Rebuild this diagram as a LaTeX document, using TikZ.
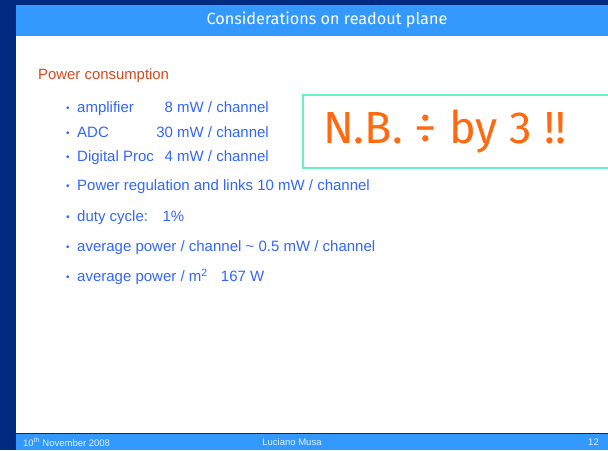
\documentclass[tikz,border=0pt]{standalone}
\usepackage{fontspec}
\setmainfont{Liberation Sans}
\newfontfamily\titlefont{Fira Sans}
\definecolor{navy}{HTML}{002B80}
\definecolor{barblue}{HTML}{3399FF}
\definecolor{headred}{HTML}{D8481E}
\definecolor{itemblue}{HTML}{3366FF}
\definecolor{aqua}{HTML}{66F2C6}
\definecolor{nborange}{HTML}{FF6A10}
\newcommand{\bul}{\makebox[11pt][l]{\raisebox{1pt}{\fontsize{10}{10}\selectfont•}}}
\begin{document}
\begin{tikzpicture}[x=1pt,y=-1pt,
  item/.style={anchor=base west,inner sep=0pt,text=itemblue,font=\fontsize{15}{16}\selectfont},
  val/.style={anchor=base east,inner sep=0pt,text=itemblue,font=\fontsize{15}{16}\selectfont},
  foot/.style={inner sep=0pt,text=white!85!barblue,font=\fontsize{9.5}{10}\selectfont}]
\useasboundingbox (0,0) rectangle (608,450);
\fill[navy] (0,0) rectangle (608,450);
\fill[white] (16,36) rectangle (608,433);
\fill[barblue] (16,5) rectangle (608,36);
\fill[barblue] (16,434) rectangle (608,450);
\node[text=white,inner sep=0pt,font=\titlefont\fontsize{16.2}{18}\selectfont] (title) at (327,20) {Considerations on readout plane};
\node[anchor=base west,inner sep=0pt,text=headred,font=\fontsize{14.9}{16}\selectfont] (head) at (38,79.5) {Power consumption};
\node[item] (i1) at (66,112) {\bul amplifier};
\node[val] (v1) at (269,112) {8 mW / channel};
\node[item] (i2) at (66,137.5) {\bul ADC};
\node[val] (v2) at (269,137.5) {30 mW / channel};
\node[item] (i3) at (66,161) {\bul Digital Proc};
\node[val] (v3) at (269,161) {4 mW / channel};
\node[item] (i4) at (66,190) {\bul Power regulation and links 10 mW / channel};
\node[item] (i5) at (66,221.5) {\bul duty cycle:\hspace{0.6em} 1\%};
\node[item] (i6) at (66,251.5) {\bul average power / channel \char"007E\ 0.5 mW / channel};
\node[item] (i7) at (66,281.5) {\bul average power / m\textsuperscript{2}\hspace{0.6em} 167 W};
\draw[aqua,line width=2pt] (303,95) rectangle (612,168);
\node[anchor=west,inner sep=0pt,text=nborange,font=\titlefont\fontsize{45}{48}\selectfont] (nb) at (323,131) {N.B. ÷ by 3 !!};
\node[foot,anchor=west] (f1) at (23,442) {10\textsuperscript{th} November 2008};
\node[foot] (f2) at (292,442) {Luciano Musa};
\node[foot,anchor=east] (f3) at (599,442) {12};
\end{tikzpicture}
\end{document}
